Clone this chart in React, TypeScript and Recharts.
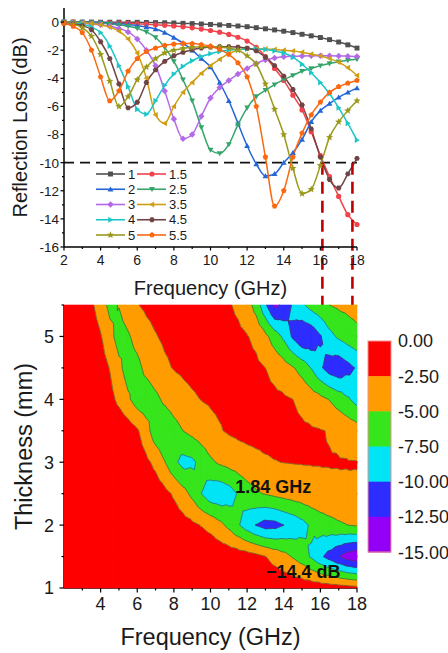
import React from 'react';
import {
  LineChart, Line, XAxis, YAxis, ReferenceLine, ReferenceDot, Legend, Label,
  ScatterChart, Scatter,
} from 'recharts';

const FONT = '"Liberation Sans", Arial, Helvetica, sans-serif';

// ---------- data ----------
const FREQ = [2, 2.5, 3, 3.5, 4, 4.5, 5, 5.5, 6, 6.5, 7, 7.5, 8, 8.5, 9, 9.5, 10, 10.5, 11, 11.5, 12, 12.5, 13, 13.5, 14, 14.5, 15, 15.5, 16, 16.5, 17, 17.5, 18];

const RL_1 = [0, 0, 0, 0, -0.01, -0.01, -0.01, -0.02, -0.02, -0.03, -0.04, -0.05, -0.07, -0.09, -0.11, -0.14, -0.17, -0.2, -0.24, -0.28, -0.33, -0.4, -0.48, -0.56, -0.65, -0.75, -0.87, -0.98, -1.1, -1.25, -1.42, -1.62, -1.85];
const RL_1_5 = [0, -0.01, -0.02, -0.03, -0.04, -0.05, -0.07, -0.09, -0.12, -0.15, -0.19, -0.23, -0.28, -0.34, -0.41, -0.5, -0.6, -0.72, -0.88, -1.08, -1.35, -1.8, -2.45, -3.3, -4.15, -5.2, -6.25, -7.8, -9.5, -11.0, -12.4, -13.7, -14.4];
const RL_2 = [0, 0, -0.01, -0.02, -0.04, -0.07, -0.11, -0.17, -0.25, -0.35, -0.5, -0.75, -1.1, -1.5, -2.0, -2.6, -3.2, -4.3, -5.6, -7.2, -8.8, -10.1, -10.95, -10.8, -10.0, -9.3, -8.35, -7.1, -6.3, -5.8, -5.35, -5.0, -4.7];
const RL_2_5 = [0, -0.01, -0.03, -0.05, -0.08, -0.13, -0.2, -0.3, -0.45, -0.7, -1.1, -1.8, -2.8, -4.1, -5.6, -7.5, -9.1, -9.35, -8.7, -7.3, -6.1, -5.3, -4.85, -4.45, -4.1, -3.8, -3.5, -3.3, -3.1, -2.95, -2.82, -2.72, -2.65];
const RL_3 = [-0.02, -0.05, -0.08, -0.13, -0.2, -0.3, -0.45, -0.7, -1.2, -2.0, -3.1, -4.9, -6.9, -8.3, -8.0, -6.7, -5.4, -4.65, -4.15, -3.7, -3.3, -2.95, -2.7, -2.55, -2.47, -2.43, -2.41, -2.4, -2.4, -2.4, -2.41, -2.43, -2.45];
const RL_3_5 = [-0.02, -0.04, -0.07, -0.12, -0.2, -0.35, -0.65, -1.2, -2.2, -4.0, -6.6, -7.2, -6.0, -5.0, -4.3, -3.65, -3.1, -2.65, -2.25, -2.0, -1.88, -1.9, -1.92, -1.95, -2.0, -2.05, -2.15, -2.28, -2.4, -2.6, -2.85, -3.25, -3.8];
const RL_4 = [-0.03, -0.07, -0.15, -0.35, -0.75, -1.7, -3.1, -4.6, -6.2, -6.55, -5.6, -4.5, -3.7, -3.15, -2.75, -2.45, -2.25, -2.1, -2.0, -1.95, -1.92, -1.92, -1.95, -2.05, -2.2, -2.5, -3.0, -3.6, -4.3, -5.1, -6.1, -7.2, -8.4];
const RL_4_5 = [-0.05, -0.12, -0.25, -0.55, -1.4, -2.6, -4.4, -6.1, -5.7, -4.3, -3.4, -2.8, -2.4, -2.15, -1.97, -1.85, -1.78, -1.75, -1.75, -1.78, -1.85, -2.05, -2.5, -3.1, -3.85, -4.8, -5.9, -7.6, -9.6, -11.2, -11.8, -10.8, -9.7];
const RL_5 = [-0.05, -0.15, -0.4, -1.0, -2.3, -4.2, -6.0, -5.3, -4.1, -3.2, -2.6, -2.2, -2.0, -1.88, -1.8, -1.76, -1.75, -1.77, -1.85, -2.0, -2.4, -3.0, -4.4, -6.2, -8.0, -10.4, -12.2, -11.9, -10.2, -8.2, -7.1, -6.3, -5.6];
const RL_5_5 = [-0.1, -0.3, -0.75, -2.0, -3.9, -5.6, -4.9, -3.5, -2.6, -2.1, -1.85, -1.66, -1.57, -1.52, -1.53, -1.6, -1.72, -1.95, -2.3, -2.9, -3.9, -6.0, -9.6, -13.1, -12.0, -9.6, -7.9, -6.6, -5.7, -5.0, -4.6, -4.35, -4.15];

const THICKNESS = [1, 1.5, 2, 2.5, 3, 3.5, 4, 4.5, 5, 5.5];
const RL_ROWS = [RL_1, RL_1_5, RL_2, RL_2_5, RL_3, RL_3_5, RL_4, RL_4_5, RL_5, RL_5_5];
const SERIES_NAMES = ['1', '1.5', '2', '2.5', '3', '3.5', '4', '4.5', '5', '5.5'];
const SERIES_KEYS = ['s1', 's1_5', 's2', 's2_5', 's3', 's3_5', 's4', 's4_5', 's5', 's5_5'];
const SERIES_COLORS = ['#505050', '#f0434b', '#2466d6', '#34a46a', '#b46ae8', '#cf9e12', '#1ac6c8', '#704444', '#999a1c', '#fb680f'];
const SERIES_MARKERS = ['square', 'circle', 'up', 'down', 'diamond', 'left', 'right', 'hexagon', 'star', 'pentagon'];

const LEVELS = [0, -2.5, -5, -7.5, -10, -12.5, -15];
const LEVEL_LABELS = ['0.00', '-2.50', '-5.00', '-7.50', '-10.00', '-12.50', '-15.00'];
const BAND_COLORS = ['#fe0000', '#ff9c00', '#36e51b', '#00e4f5', '#2d2dff', '#9400f5'];

const RL_THRESHOLD = -10;
const BANDWIDTH_EDGES = [16.11, 17.75];
const TOP_DASH_END = -21;
const BOT_DASH_RANGE = [1.55, 5.6];
const ANNOT_BW = { f: 11.3, t: 2.61, text: '1.84 GHz' };
const ANNOT_RL = { f: 12.98, t: 1.255, text: '\u221214.4 dB' };

const TOP_X_TICKS = [2, 3, 4, 5, 6, 7, 8, 9, 10, 11, 12, 13, 14, 15, 16, 17, 18];
const TOP_Y_TICKS = [-16, -15, -14, -13, -12, -11, -10, -9, -8, -7, -6, -5, -4, -3, -2, -1, 0];
const BOT_X_TICKS = [3, 4, 5, 6, 7, 8, 9, 10, 11, 12, 13, 14, 15, 16, 17, 18];
const BOT_Y_TICKS = [1, 1.5, 2, 2.5, 3, 3.5, 4, 4.5, 5, 5.5];

// tables built from the arrays
const TABLE = FREQ.map((f, j) => {
  const row: any = { f };
  SERIES_KEYS.forEach((k, i) => { row[k] = RL_ROWS[i][j]; });
  return row;
});
const NODES = THICKNESS.flatMap((t, i) => FREQ.map((f, j) => ({ f, t, v: RL_ROWS[i][j] })));

// ---------- markers ----------
const polyPts = (cx: number, cy: number, r: number, n: number, rot: number) =>
  Array.from({ length: n }, (_, k) => {
    const a = rot + (k * 2 * Math.PI) / n;
    return `${(cx + r * Math.cos(a)).toFixed(2)},${(cy + r * Math.sin(a)).toFixed(2)}`;
  }).join(' ');

const starPts = (cx: number, cy: number, r: number) =>
  Array.from({ length: 10 }, (_, k) => {
    const a = -Math.PI / 2 + (k * Math.PI) / 5;
    const rr = k % 2 === 0 ? r : r * 0.45;
    return `${(cx + rr * Math.cos(a)).toFixed(2)},${(cy + rr * Math.sin(a)).toFixed(2)}`;
  }).join(' ');

function Marker({ shape, cx, cy, color, s }: any) {
  if (cx == null || cy == null) return null;
  switch (shape) {
    case 'square':
      return <rect x={cx - s * 0.95} y={cy - s * 0.95} width={s * 1.9} height={s * 1.9} fill={color} />;
    case 'circle':
      return <circle cx={cx} cy={cy} r={s} fill={color} />;
    case 'up':
      return <polygon points={polyPts(cx, cy + s * 0.2, s * 1.3, 3, -Math.PI / 2)} fill={color} />;
    case 'down':
      return <polygon points={polyPts(cx, cy - s * 0.2, s * 1.3, 3, Math.PI / 2)} fill={color} />;
    case 'left':
      return <polygon points={polyPts(cx + s * 0.2, cy, s * 1.3, 3, Math.PI)} fill={color} />;
    case 'right':
      return <polygon points={polyPts(cx - s * 0.2, cy, s * 1.3, 3, 0)} fill={color} />;
    case 'diamond':
      return <polygon points={polyPts(cx, cy, s * 1.25, 4, -Math.PI / 2)} fill={color} />;
    case 'hexagon':
      return <polygon points={polyPts(cx, cy, s * 1.08, 6, 0)} fill={color} />;
    case 'pentagon':
      return <polygon points={polyPts(cx, cy, s * 1.12, 5, -Math.PI / 2)} fill={color} />;
    case 'star':
      return <polygon points={starPts(cx, cy, s * 1.45)} fill={color} />;
    default:
      return <circle cx={cx} cy={cy} r={s} fill={color} />;
  }
}

const makeDot = (shape: string, color: string) => (props: any) => (
  <Marker key={`d-${props.index}`} shape={shape} cx={props.cx} cy={props.cy} color={color} s={2.6} />
);

// ---------- ticks ----------
function makeXTick(fontSize: number, margin: number, majLen: number, minLen: number, isMajor: (v: number) => boolean) {
  return (props: any) => {
    const { x, y, payload } = props;
    const v = Number(payload.value);
    const major = isMajor(v);
    const y0 = y - margin;
    return (
      <g>
        <line x1={x} x2={x} y1={y0} y2={y0 + (major ? majLen : minLen)} stroke="#000" strokeWidth={1.2} />
        {major ? (
          <text x={x} y={y} dy="0.71em" textAnchor="middle" fontSize={fontSize} fontFamily={FONT} fill="#1a1a1a">
            {String(v)}
          </text>
        ) : null}
      </g>
    );
  };
}

function makeYTick(fontSize: number, margin: number, majLen: number, minLen: number, isMajor: (v: number) => boolean) {
  return (props: any) => {
    const { x, y, payload } = props;
    const v = Number(payload.value);
    const major = isMajor(v);
    const x0 = x + margin;
    return (
      <g>
        <line x1={x0 - (major ? majLen : minLen)} x2={x0} y1={y} y2={y} stroke="#000" strokeWidth={1.2} />
        {major ? (
          <text x={x} y={y} dy="0.36em" textAnchor="end" fontSize={fontSize} fontFamily={FONT} fill="#1a1a1a">
            {String(v)}
          </text>
        ) : null}
      </g>
    );
  };
}

const isEven = (v: number) => Math.abs(v) % 2 === 0;
const isInt = (v: number) => Number.isInteger(v);

// ---------- contour ----------
type PNode = { x: number; y: number; v: number };

function clipPoly(poly: PNode[], level: number, keepAbove: boolean): PNode[] {
  const out: PNode[] = [];
  for (let i = 0; i < poly.length; i++) {
    const a = poly[i];
    const b = poly[(i + 1) % poly.length];
    const ain = keepAbove ? a.v >= level : a.v <= level;
    const bin = keepAbove ? b.v >= level : b.v <= level;
    if (ain) out.push(a);
    if (ain !== bin) {
      const t = (level - a.v) / (b.v - a.v);
      out.push({ x: a.x + t * (b.x - a.x), y: a.y + t * (b.y - a.y), v: level });
    }
  }
  return out;
}

function ContourLayer({ points }: { points: { x: number; y: number }[] }) {
  const nC = FREQ.length;
  const nR = THICKNESS.length;
  if (!points || points.length < nC * nR) return null;
  const get = (i: number, j: number): PNode => ({
    x: points[i * nC + j].x,
    y: points[i * nC + j].y,
    v: RL_ROWS[i][j] + 1e-7,
  });
  const bandPaths: string[][] = BAND_COLORS.map(() => []);
  const segs: string[] = [];
  const toPath = (poly: PNode[]) =>
    'M' + poly.map((p) => `${p.x.toFixed(2)},${p.y.toFixed(2)}`).join('L') + 'Z';
  const innerLevels = LEVELS.slice(1, LEVELS.length - 1);

  for (let i = 0; i < nR - 1; i++) {
    for (let j = 0; j < nC - 1; j++) {
      const a = get(i, j), b = get(i, j + 1), c = get(i + 1, j + 1), d = get(i + 1, j);
      const m: PNode = {
        x: (a.x + b.x + c.x + d.x) / 4,
        y: (a.y + b.y + c.y + d.y) / 4,
        v: (a.v + b.v + c.v + d.v) / 4,
      };
      const tris = [[a, b, m], [b, c, m], [c, d, m], [d, a, m]];
      for (const tri of tris) {
        for (let k = 0; k < BAND_COLORS.length; k++) {
          const hi = k === 0 ? Infinity : LEVELS[k];
          const lo = k === BAND_COLORS.length - 1 ? -Infinity : LEVELS[k + 1];
          let poly: PNode[] = tri;
          if (isFinite(lo)) poly = clipPoly(poly, lo, true);
          if (poly.length >= 3 && isFinite(hi)) poly = clipPoly(poly, hi, false);
          if (poly.length >= 3) bandPaths[k].push(toPath(poly));
        }
        for (const L of innerLevels) {
          const pts: PNode[] = [];
          for (let e = 0; e < 3; e++) {
            const p = tri[e];
            const q = tri[(e + 1) % 3];
            if ((p.v - L) * (q.v - L) < 0) {
              const t = (L - p.v) / (q.v - p.v);
              pts.push({ x: p.x + t * (q.x - p.x), y: p.y + t * (q.y - p.y), v: L });
            }
          }
          if (pts.length === 2) {
            segs.push(`M${pts[0].x.toFixed(2)},${pts[0].y.toFixed(2)}L${pts[1].x.toFixed(2)},${pts[1].y.toFixed(2)}`);
          }
        }
      }
    }
  }
  return (
    <g>
      {bandPaths.map((arr, k) => (
        <path key={k} d={arr.join('')} fill={BAND_COLORS[k]} stroke={BAND_COLORS[k]} strokeWidth={0.6} strokeLinejoin="round" />
      ))}
      <path d={segs.join('')} fill="none" stroke="#3c3c3c" strokeWidth={0.7} strokeOpacity={0.8} />
    </g>
  );
}

// ---------- legends ----------
function SeriesLegend() {
  const rowH = 15.25;
  const cols = [{ line: 2, mark: 16.5, text: 34 }, { line: 43, mark: 58, text: 75 }];
  return (
    <svg width={100} height={82}>
      {SERIES_NAMES.map((name, k) => {
        const r = Math.floor(k / 2);
        const c = cols[k % 2];
        const y = 8 + r * rowH;
        return (
          <g key={name}>
            <line x1={c.line} x2={c.line + 29} y1={y} y2={y} stroke={SERIES_COLORS[k]} strokeWidth={1.6} />
            <Marker shape={SERIES_MARKERS[k]} cx={c.mark} cy={y} color={SERIES_COLORS[k]} s={2.6} />
            <text x={c.text} y={y} dy="0.36em" fontSize={13} fontFamily={FONT} fill="#1a1a1a">{name}</text>
          </g>
        );
      })}
    </svg>
  );
}

function ColorBar() {
  const h = 35.17;
  const top = 11;
  const x0 = 4;
  const w = 23;
  return (
    <svg width={84} height={245} style={{ overflow: 'visible' }}>
      {BAND_COLORS.map((c, k) => (
        <rect key={k} x={x0} y={top + k * h} width={w} height={h + 0.5} fill={c} />
      ))}
      <rect x={x0} y={top} width={w} height={h * BAND_COLORS.length} fill="none" stroke="#f19090" strokeWidth={1} />
      {LEVEL_LABELS.map((lab, k) => (
        <text key={k} x={34} y={top + k * h} dy="0.36em" fontSize={18} fontFamily={FONT} fill="#1a1a1a">{lab}</text>
      ))}
    </svg>
  );
}

// ---------- charts ----------
function TopChart() {
  return (
    <LineChart width={448} height={300} data={TABLE} margin={{ top: 8, right: 91, bottom: 0, left: 0 }}>
      <XAxis
        dataKey="f" type="number" domain={[2, 18]} ticks={TOP_X_TICKS} interval={0} height={53}
        axisLine={{ stroke: '#000', strokeWidth: 1.5 }} tickLine={false} tickSize={0} tickMargin={8}
        tick={makeXTick(14, 8, 3.5, 2, isEven)}
      >
        <Label value="Frequency (GHz)" position="insideBottom" offset={5} fontSize={20} fill="#1a1a1a" fontFamily={FONT} />
      </XAxis>
      <XAxis xAxisId="top" orientation="top" type="number" domain={[2, 18]} height={0} tick={false} tickLine={false}
        axisLine={{ stroke: '#000', strokeWidth: 1.5 }} />
      <YAxis
        type="number" domain={[-16, 1]} ticks={TOP_Y_TICKS} interval={0} width={64}
        axisLine={{ stroke: '#000', strokeWidth: 1.5 }} tickLine={false} tickSize={0} tickMargin={5}
        tick={makeYTick(13.5, 5, 3.5, 2, isEven)}
      >
        <Label value="Reflection Loss (dB)" angle={-90} position="insideLeft" offset={20} fontSize={20}
          fill="#1a1a1a" fontFamily={FONT} style={{ textAnchor: 'middle' }} />
      </YAxis>
      <YAxis yAxisId="right" orientation="right" type="number" domain={[-16, 1]} width={0} tick={false} tickLine={false}
        axisLine={{ stroke: '#000', strokeWidth: 1.5 }} />
      <ReferenceLine y={RL_THRESHOLD} stroke="#111" strokeWidth={1.8} strokeDasharray="10 6" />
      {SERIES_KEYS.map((k, i) => (
        <Line
          key={k} dataKey={k} name={SERIES_NAMES[i]} type="monotone" stroke={SERIES_COLORS[i]} strokeWidth={1.5}
          dot={makeDot(SERIES_MARKERS[i], SERIES_COLORS[i])} activeDot={false} isAnimationActive={false}
        />
      ))}
      {BANDWIDTH_EDGES.map((e) => (
        <ReferenceLine key={e} segment={[{ x: e, y: RL_THRESHOLD }, { x: e, y: TOP_DASH_END }]} ifOverflow="visible"
          stroke="#c00000" strokeWidth={2.6} strokeDasharray="12 7" />
      ))}
      <Legend layout="horizontal" verticalAlign="middle" align="center"
        wrapperStyle={{ position: 'absolute', left: 94, top: 166, width: 'auto', height: 'auto' }}
        content={() => <SeriesLegend />} />
    </LineChart>
  );
}

function BottomChart() {
  return (
    <ScatterChart width={448} height={353} margin={{ top: 5, right: 91, bottom: 0, left: 0 }}>
      <XAxis
        dataKey="f" type="number" domain={[2, 18]} ticks={BOT_X_TICKS} interval={0} height={65}
        axisLine={{ stroke: '#000', strokeWidth: 1.5 }} tickLine={false} tickSize={0} tickMargin={9}
        tick={makeXTick(18, 9, 4.5, 2.5, isEven)}
      >
        <Label value="Frequency (GHz)" position="insideBottom" offset={8} fontSize={23.5} fill="#1a1a1a" fontFamily={FONT} />
      </XAxis>
      <XAxis xAxisId="top" dataKey="f" orientation="top" type="number" domain={[2, 18]} ticks={BOT_X_TICKS} interval={0}
        height={0} mirror tick={false} tickSize={3} tickLine={{ stroke: '#000', strokeWidth: 1.2 }}
        axisLine={{ stroke: '#000', strokeWidth: 1.5 }} />
      <YAxis
        dataKey="t" type="number" domain={[1, 5.5]} ticks={BOT_Y_TICKS} interval={0} width={64}
        axisLine={{ stroke: '#000', strokeWidth: 1.5 }} tickLine={false} tickSize={0} tickMargin={10}
        tick={makeYTick(18, 10, 4.5, 2.5, isInt)}
      >
        <Label value="Thickness (mm)" angle={-90} position="insideLeft" offset={24} fontSize={23.5}
          fill="#1a1a1a" fontFamily={FONT} style={{ textAnchor: 'middle' }} />
      </YAxis>
      <YAxis yAxisId="right" dataKey="t" orientation="right" type="number" domain={[1, 5.5]} ticks={BOT_Y_TICKS} interval={0}
        width={0} mirror tick={false} tickSize={3} tickLine={{ stroke: '#000', strokeWidth: 1.2 }}
        axisLine={{ stroke: '#000', strokeWidth: 1.5 }} />
      <Scatter
        data={NODES} isAnimationActive={false} fill="none" lineType="joint"
        shape={() => <g />}
        line={(p: any) => <ContourLayer points={p.points} />}
      />
      {BANDWIDTH_EDGES.map((e) => (
        <ReferenceLine key={e} segment={[{ x: e, y: BOT_DASH_RANGE[0] }, { x: e, y: BOT_DASH_RANGE[1] }]} ifOverflow="visible"
          stroke="#c00000" strokeWidth={2.6} strokeDasharray="12 7" />
      ))}
      <ReferenceDot x={ANNOT_BW.f} y={ANNOT_BW.t} r={1} fill="none" stroke="none"
        label={{ value: ANNOT_BW.text, position: 'right', offset: 0, fontSize: 18, fontWeight: 700, fill: '#111', fontFamily: FONT }} />
      <ReferenceDot x={ANNOT_RL.f} y={ANNOT_RL.t} r={1} fill="none" stroke="none"
        label={{ value: ANNOT_RL.text, position: 'right', offset: 0, fontSize: 18, fontWeight: 700, fill: '#111', fontFamily: FONT }} />
      <Legend layout="horizontal" verticalAlign="middle" align="center"
        wrapperStyle={{ position: 'absolute', left: 364, top: 30, width: 'auto', height: 'auto' }}
        content={() => <ColorBar />} />
    </ScatterChart>
  );
}

export default function App() {
  return (
    <div style={{ position: 'absolute', left: 0, top: 0, width: 448, height: 653, overflow: 'hidden', background: '#fff', fontFamily: FONT }}>
      <div style={{ position: 'absolute', left: 0, top: 0 }}>
        <TopChart />
      </div>
      <div style={{ position: 'absolute', left: 0, top: 300 }}>
        <BottomChart />
      </div>
    </div>
  );
}
